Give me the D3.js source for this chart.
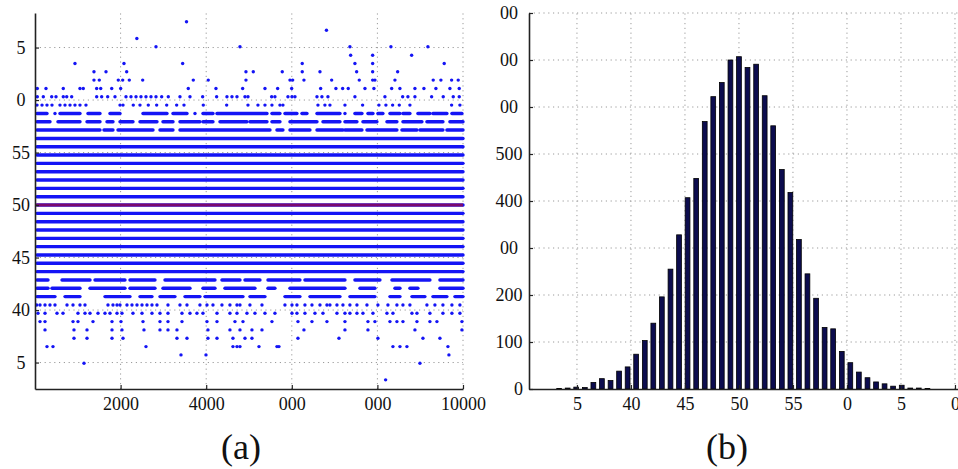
<!DOCTYPE html>
<html><head><meta charset="utf-8">
<script src="https://cdn.jsdelivr.net/npm/d3@7"></script>
<style>
body{margin:0;background:#fff}svg{display:block}
svg text{font-family:"Liberation Serif","Times New Roman","DejaVu Serif",serif !important}
</style>
</head><body><svg id="c" width="958" height="469"></svg>
<script>
// ---------- DATA ----------
// histogram (b): sample levels and counts
const histLevels = [33.35, 34.14, 34.93, 35.73, 36.52, 37.31, 38.11, 38.90, 39.69, 40.48, 41.28, 42.07, 42.86, 43.66, 44.45, 45.24, 46.04, 46.83, 47.62, 48.41, 49.21, 50.00, 50.79, 51.59, 52.38, 53.17, 53.97, 54.76, 55.55, 56.34, 57.14, 57.93, 58.72, 59.52, 60.31, 61.10, 61.90, 62.69, 63.48, 64.27, 65.07, 65.86, 66.65, 67.45];
const histCounts = [1, 2, 4, 3, 14, 22, 18, 38, 47, 74, 103, 140, 196, 255, 328, 407, 448, 569, 622, 652, 700, 707, 684, 691, 624, 560, 467, 418, 318, 245, 193, 131, 128, 80, 56, 36, 24, 15, 11, 6, 8, 2, 2, 1];

// scatter (a): levels that are hit in almost every stretch of trials
const coreLevels = [43.66, 44.45, 45.24, 46.04, 46.83, 47.62, 48.41, 49.21, 50.00, 50.79, 51.59, 52.38, 53.17, 53.97, 54.76, 55.55, 56.34];
const meanLevel = 50.00;

// scatter (a): semi-dense levels, given as runs of trials [from, to]
const runLevels = [57.14, 57.93, 58.72, 42.86, 42.07, 41.28];
const runTrials = [
  [[47,1518],[1612,1822],[1939,2757],[2920,3224],[3387,5490],[5653,5793],[5957,6424],[6588,7195],[7242,7639],[7756,8456],[8573,8924],[8994,9531],[9624,10000]],
  [[47,350],[537,1051],[1215,1518],[1682,1822],[1986,2289],[2453,2850],[2990,3224],[3387,3854],[3924,4158],[4322,4952],[5022,5420],[5536,5723],[5957,6588],[6728,7125],[7242,7522],[7662,7989],[8223,8456],[8597,9040],[9157,9531],[9694,10000]],
  [[47,280],[467,467],[584,1051],[1238,1518],[1752,1986],[2523,3084],[3224,3551],[3738,3738],[3924,4158],[4252,5420],[5536,5723],[5840,6120],[6237,6354],[6588,7125],[7242,7242],[7475,7639],[7779,7896],[8012,8129],[8293,8527],[8597,8760],[8947,9227],[9297,9624],[9741,9975]],
  [[47,304],[631,1285],[1402,2102],[2219,2803],[3037,4205],[4368,4789],[4906,5256],[5443,6190],[6307,7242],[7475,8059],[8340,9227],[9461,10000]],
  [[47,304],[397,1051],[1285,2102],[2219,2803],[2990,3621],[3924,4205],[4438,5139],[5443,5606],[5957,7242],[7592,7942],[8410,8527],[8760,8947],[9461,10000]],
  [[47,467],[701,1051],[1635,2219],[2453,2733],[2920,3270],[3504,3854],[3971,4859],[5022,5373],[5840,6190],[6424,7125],[7358,7942],[8293,8527],[8807,9110],[9297,9624],[9811,10000]]
];

// scatter (a): sparse tail levels, trial index of each sample
const tailLevels = [67.45, 66.65, 65.86, 65.07, 64.27, 63.48, 62.69, 61.90, 61.10, 60.31, 59.52,
                    40.48, 39.69, 38.90, 38.11, 37.31, 36.52, 35.73, 34.93, 33.35];
const tailTrials = [
  [3540],
  [6810],
  [2380],
  [2827, 4789, 7358, 8316, 9180],
  [7375, 7889, 8800],
  [934, 2079, 3450, 6244, 7475, 7889, 9561],
  [1378, 1659, 2142, 4929, 5100, 5777, 6244, 6658, 7515, 7889, 8473],
  [1378, 1502, 1946, 2049, 2203, 2516, 3698, 4048, 4929, 5957, 6020, 6284, 6931, 7576, 7889, 7942, 8410, 9304, 9484, 9734, 9888],
  [54, 257, 661, 1051, 1128, 1441, 1535, 1792, 2002, 3581, 4228, 4852, 5373, 5669, 5997, 6674, 7031, 7188, 7319, 7709, 7919, 8333, 8526, 8877, 9087, 9367, 9694, 9912],
  [54, 194, 390, 491, 661, 741, 857, 1441, 1558, 1698, 1869, 2126, 2243, 2360, 2476, 2593, 2710, 2827, 2960, 3114, 3387, 3621, 3917, 4244, 4485, 4602, 4719, 4906, 4976, 5529, 5606, 5910, 6004, 6074, 6588, 6704, 6844, 7475, 8176, 8590, 8713, 8877, 9267, 9538, 9772, 9912],
  [47, 164, 280, 397, 584, 701, 818, 934, 1051, 1191, 1986, 2056, 2296, 2453, 2647, 2843, 3077, 3310, 3481, 3932, 4478, 4976, 5209, 5373, 5536, 5723, 5793, 6611, 6774, 6891, 7242, 7654, 8036, 8199, 8356, 8511, 8760, 9734, 9928],
  [40, 117, 234, 350, 467, 748, 888, 1051, 1168, 1705, 1822, 1916, 1986, 2149, 2266, 2383, 2500, 2616, 2733, 2850, 3107, 3387, 3551, 3854, 4018, 4158, 4368, 4555, 4719, 4789, 5022, 5303, 5840, 6004, 6120, 6307, 6471, 6658, 6821, 6891, 7055, 7195, 7358, 7522, 7756, 8012, 8246, 8456, 8597, 8760, 9157, 9344, 9531, 9741, 9928],
  [70, 234, 514, 654, 1004, 1168, 1285, 1472, 1635, 1752, 1916, 2032, 2289, 2500, 2733, 2920, 3107, 3434, 3621, 3784, 3924, 4252, 4555, 4719, 4952, 5139, 5373, 5606, 6004, 6120, 6307, 6541, 6728, 7055, 7242, 7358, 7522, 7662, 7896, 8223, 8363, 8807, 8924, 9227, 9531, 9741, 9928],
  [117, 234, 888, 1004, 1355, 1799, 2009, 2523, 2920, 3107, 3434, 4018, 4252, 4672, 4859, 5536, 6144, 6471, 6821, 7242, 7779, 7942, 8293, 8456, 8597, 8924, 9227, 9391, 9975],
  [234, 911, 1215, 1799, 2032, 2546, 2920, 3107, 3317, 4041, 4555, 4789, 5069, 5303, 6284, 7242, 7779, 8877, 9975],
  [911, 1215, 1799, 2056, 3317, 3551, 4041, 4252, 4625, 4906, 5069, 6144, 7102, 8012, 9064, 9461],
  [280, 420, 2593, 4625, 4719, 4789, 5233, 5653, 5700, 8363, 8527, 8690, 9648],
  [3411, 3995, 9671],
  [1145, 8994],
  [8192]
];

// ticks and labels (as printed in the figure)
const aXTicks = [2000, 4000, 6000, 8000, 10000];
const aXLabels = ["2000", "4000", "000", "000", "10000"];
const aYTicks = [35, 40, 45, 50, 55, 60, 65];
const aYLabels = ["5", "40", "45", "50", "55", "0", "5"];
const bXTicks = [35, 40, 45, 50, 55, 60, 65, 70];
const bXLabels = ["5", "40", "45", "50", "55", "0", "5", "0"];
const bYTicks = [0, 100, 200, 300, 400, 500, 600, 700, 800];
const bYLabels = ["0", "100", "200", "00", "400", "500", "00", "00", "00"];
const captions = ["(a)", "(b)"];

// ---------- DRAW ----------
const svg = d3.select("#c");
const FONT = "Liberation Serif";
const BLUE = "#1414f5";
const GRID = {stroke: "#9a9a9a", width: 1, dash: "1.2,3.6"};

function grid(g, xs, ys, xScale, yScale) {
  const [x0, x1] = xScale.range(), [y0, y1] = yScale.range();
  g.selectAll(".vg").data(xs).join("line")
    .attr("x1", d => xScale(d)).attr("x2", d => xScale(d))
    .attr("y1", y0).attr("y2", y1)
    .attr("stroke", GRID.stroke).attr("stroke-width", GRID.width).attr("stroke-dasharray", GRID.dash);
  g.selectAll(".hg").data(ys).join("line")
    .attr("x1", x0).attr("x2", x1)
    .attr("y1", d => yScale(d)).attr("y2", d => yScale(d))
    .attr("stroke", GRID.stroke).attr("stroke-width", GRID.width).attr("stroke-dasharray", GRID.dash);
}

function styleAxis(g) {
  g.attr("font-family", FONT);
  g.select(".domain").attr("stroke", "#222").attr("stroke-width", 1.6);
  g.selectAll(".tick line").attr("stroke", "#222").attr("stroke-width", 1.2);
  g.selectAll("text").attr("font-family", FONT).attr("font-size", 18).attr("fill", "#111");
}

// ---- panel (a) ----
const xa = d3.scaleLinear().domain([0, 10000]).range([35, 463]);
const ya = d3.scaleLinear().domain([32.48, 68.29]).range([389, 13]);
const ga = svg.append("g");
grid(ga.append("g"), aXTicks, aYTicks, xa, ya);

const dots = ga.append("g");
dots.selectAll(".core").data(coreLevels).join("line")
  .attr("x1", xa(47)).attr("x2", xa(10000))
  .attr("y1", d => ya(d)).attr("y2", d => ya(d))
  .attr("stroke", BLUE).attr("stroke-width", 3.4).attr("stroke-linecap", "round");
runLevels.forEach((lv, i) => {
  dots.append("g").selectAll("line").data(runTrials[i]).join("line")
    .attr("x1", d => xa(d[0])).attr("x2", d => xa(d[1]))
    .attr("y1", ya(lv)).attr("y2", ya(lv))
    .attr("stroke", BLUE).attr("stroke-width", 3.4).attr("stroke-linecap", "round");
});
tailLevels.forEach((lv, i) => {
  dots.append("g").selectAll("circle").data(tailTrials[i]).join("circle")
    .attr("cx", d => xa(d)).attr("cy", ya(lv)).attr("r", 1.7).attr("fill", BLUE);
});
ga.append("line")
  .attr("x1", xa(0)).attr("x2", xa(10000))
  .attr("y1", ya(meanLevel)).attr("y2", ya(meanLevel))
  .attr("stroke", "#d00000").attr("stroke-width", 3).attr("stroke-opacity", 0.55);

const axA_x = ga.append("g").attr("transform", "translate(0,389)")
  .call(d3.axisBottom(xa).tickValues(aXTicks).tickFormat((d, i) => aXLabels[i]).tickSizeInner(-4).tickSizeOuter(0));
styleAxis(axA_x);
axA_x.selectAll("text").attr("y", 8);
const axA_y = ga.append("g").attr("transform", "translate(35,0)")
  .call(d3.axisLeft(ya).tickValues(aYTicks).tickFormat((d, i) => aYLabels[i]).tickSizeInner(-4).tickSizeOuter(0));
styleAxis(axA_y);
axA_y.selectAll("text").attr("text-anchor", "middle").attr("x", -14);

// ---- panel (b) ----
const xb = d3.scaleLinear().domain([30.56, 70.28]).range([529, 958]);
const yb = d3.scaleLinear().domain([0, 800]).range([389, 13]);
const gb = svg.append("g");
grid(gb.append("g"), bXTicks, bYTicks.filter(d => d > 0), xb, yb);

const step = histLevels[1] - histLevels[0];
const bw = (xb(histLevels[0] + step) - xb(histLevels[0])) * 0.56;
gb.append("g").selectAll("rect").data(histLevels).join("rect")
  .attr("x", d => xb(d) - bw / 2)
  .attr("width", bw)
  .attr("y", (d, i) => yb(histCounts[i]))
  .attr("height", (d, i) => yb(0) - yb(histCounts[i]))
  .attr("fill", "#0c0c4e").attr("stroke", "#000").attr("stroke-width", 0.8);

const axB_x = gb.append("g").attr("transform", "translate(0,389)")
  .call(d3.axisBottom(xb).tickValues(bXTicks).tickFormat((d, i) => bXLabels[i]).tickSizeInner(-4).tickSizeOuter(0));
styleAxis(axB_x);
axB_x.selectAll("text").attr("y", 8);
const axB_y = gb.append("g").attr("transform", "translate(529,0)")
  .call(d3.axisLeft(yb).tickValues(bYTicks).tickFormat((d, i) => bYLabels[i]).tickSizeInner(-4).tickSizeOuter(0));
styleAxis(axB_y);
axB_y.selectAll("text")
  .attr("text-anchor", (d, i) => bYLabels[i] === String(d) && d === 0 ? "end" : "middle")
  .attr("x", (d, i) => bYLabels[i] === String(d) && d === 0 ? -6 : -20);

// captions
svg.selectAll(".cap").data(captions).join("text")
  .attr("x", (d, i) => i === 0 ? 241 : 727)
  .attr("y", 459)
  .attr("text-anchor", "middle")
  .attr("font-family", FONT).attr("font-size", 36).attr("fill", "#111")
  .text(d => d);
</script>
</body></html>
